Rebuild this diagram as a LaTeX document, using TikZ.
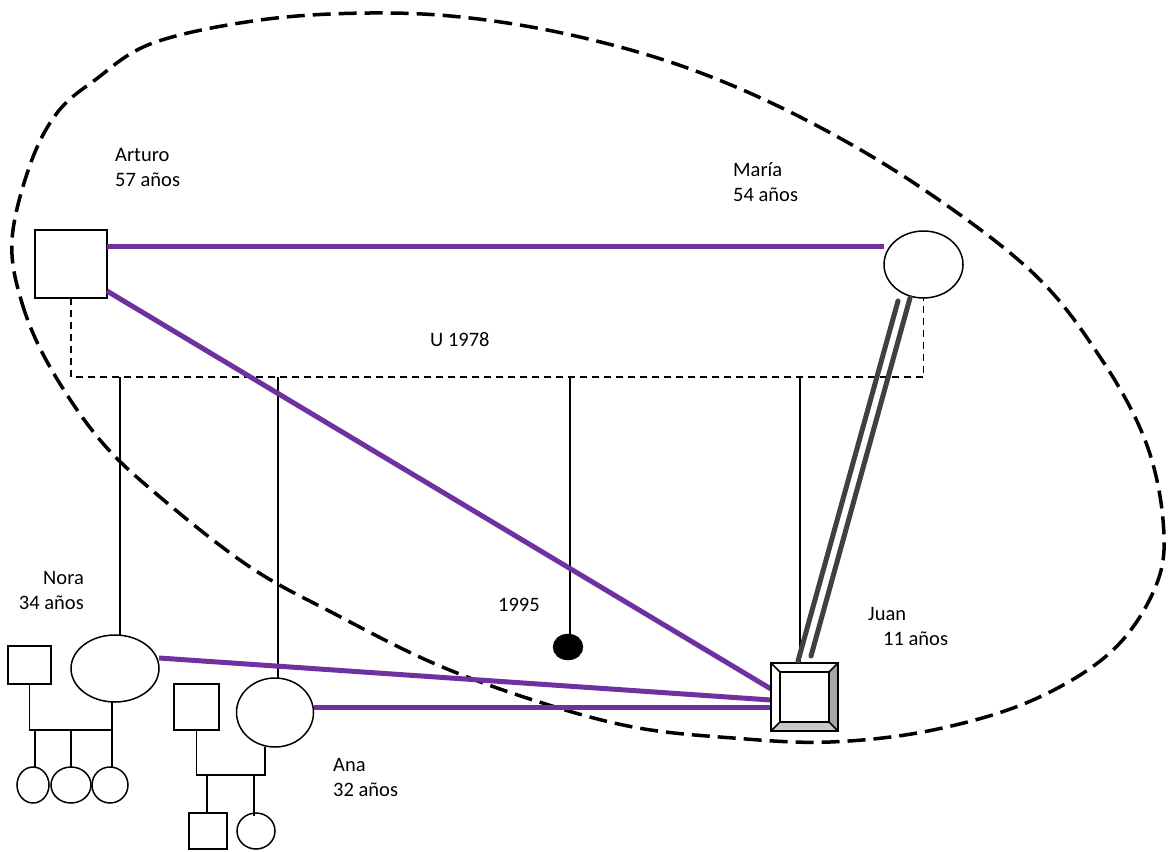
\documentclass[tikz,border=0pt]{standalone}
\usepackage{fontspec}
\setmainfont{Carlito}
\usetikzlibrary{shapes.geometric,calc}
\definecolor{relpurple}{HTML}{7030A0}
\definecolor{dblgrey}{HTML}{404040}
\definecolor{bevdark}{HTML}{A6A6A6}
\definecolor{bevlight}{HTML}{C8C8C8}
\tikzset{
  shp/.style={draw=black, line width=1.5pt, fill=white, inner sep=0pt, outer sep=0pt},
  sqr/.style={shp, rectangle},
  ell/.style={shp, ellipse},
  lbl/.style={font=\fontsize{20.5}{25}\selectfont, inner sep=0pt, text=black},
  rel/.style={line width=5pt, draw=relpurple},
  dbl/.style={line width=5pt, draw=dblgrey, line cap=round},
  kin/.style={line width=1.5pt},
  union/.style={line width=1.5pt, dash pattern=on 7pt off 5pt},
  outline/.style={line width=3.5pt, dash pattern=on 18pt off 8pt}
}
\begin{document}
\begin{tikzpicture}[x=1pt,y=-1pt]
\useasboundingbox (0,0) rectangle (1169,851);

% big dashed boundary
\draw[outline] plot[smooth cycle, tension=0.6] coordinates {
(12,240) (22,303) (50,367) (100,440) (160,497) (250,567) (333,613) (433,663)
(533,700) (633,727) (733,738) (830,742) (933,730) (1033,700) (1113,650)
(1157,583) (1163,520) (1145,440) (1100,357) (1033,273) (920,187) (806,120)
(693,70) (580,37) (470,18) (370,13) (260,20) (153,43) (95,80) (57,113) (30,165)};

% people
\node[sqr, minimum width=72pt, minimum height=68pt] (arturo) at (71,264) {};
\node[ell, minimum width=79pt, minimum height=67pt] (maria) at (923.5,264.5) {};
\node[ell, minimum width=88pt, minimum height=67pt] (nora) at (115,668.5) {};
\node[ell, minimum width=77pt, minimum height=69pt] (ana) at (275,712.5) {};
\node[sqr, minimum width=43pt, minimum height=38pt] (nh) at (29.5,665) {};
\node[sqr, minimum width=45pt, minimum height=46pt] (ah) at (196.5,707) {};
\node[ell, minimum width=32pt, minimum height=36pt] (nk1) at (33,785) {};
\node[ell, minimum width=40pt, minimum height=36pt] (nk2) at (71,785) {};
\node[ell, minimum width=36pt, minimum height=36pt] (nk3) at (110,785) {};
\node[sqr, minimum width=38pt, minimum height=36pt] (as) at (208,831) {};
\node[ell, minimum width=38pt, minimum height=36pt] (ag) at (256,831) {};
\node[ellipse, fill=black, draw=black, minimum width=30pt, minimum height=26pt, inner sep=0pt] (mc) at (568,647) {};
\node[sqr, minimum width=67pt, minimum height=68pt] (juan) at (804.5,697) {};

% labels (anchor = baseline of the last line)
\node[lbl, anchor=base west, align=left] (larturo) at (115,186) {Arturo\\57 años};
\node[lbl, anchor=base west, align=left] (lmaria) at (733,201) {María\\54 años};
\node[lbl, anchor=base west] (lunion) at (430,346) {U 1978};
\node[lbl, anchor=base west] (lmc) at (498,611) {1995};
\node[lbl, anchor=base east, align=right] (lnora) at (84,609) {Nora\\34 años};
\node[lbl, anchor=base west, align=left] (ljuan) at (868,645) {Juan\\\hspace*{15pt}11 años};
\node[lbl, anchor=base west, align=left] (lana) at (333,796) {Ana\\32 años};

% union line
\coordinate (ubar) at (0,377);
\draw[union] (arturo.south) -- (arturo.south |- ubar) -| (maria.south);
\draw[kin] ([xshift=5pt]nora.north) -- ([xshift=5pt]nora.north |- ubar);
\draw[kin] ([xshift=3pt]ana.north) -- ([xshift=3pt]ana.north |- ubar);
\draw[kin] ([xshift=2pt]mc.north) -- ([xshift=2pt]mc.north |- ubar);
\draw[kin] ([xshift=-4.5pt]juan.north) -- ([xshift=-4.5pt]juan.north |- ubar);

% Nora's family
\coordinate (nbar) at (0,730);
\draw[kin] (nh.south) -- (nh.south |- nbar) -| ([xshift=-3pt]nora.south);
\draw[kin] ([xshift=2pt]nk1.north) -- ([xshift=2pt]nk1.north |- nbar);
\draw[kin] (nk2.north) -- (nk2.north |- nbar);
\draw[kin] ([xshift=2pt]nk3.north) -- ([xshift=2pt]nk3.north |- nbar);

% Ana's family
\coordinate (abar) at (0,775);
\draw[kin] (ah.south) -- (ah.south |- abar) -| ([xshift=-10pt]ana.south);
\draw[kin] ([xshift=-1pt]as.north) -- ([xshift=-1pt]as.north |- abar);
\draw[kin] ([xshift=-2pt,yshift=-3pt]ag.north) -- ([xshift=-2pt]ag.north |- abar);

% purple relations
\draw[rel] ([yshift=18pt]arturo.east) -- ([yshift=18.5pt]maria.west);
\draw[rel] ([yshift=7pt]arturo.south east) -- ([yshift=8pt]juan.west);
\draw[rel] ([yshift=10.5pt]nora.east) -- ([yshift=-3pt]juan.west);
\draw[rel] ([yshift=5.5pt]ana.east) -- ([yshift=-10pt]juan.west);

% Juan bevel
\coordinate (i1) at ($(juan.north west)+(9,9)$);
\coordinate (i2) at ($(juan.north east)+(-9,9)$);
\coordinate (i3) at ($(juan.south east)+(-9,-9)$);
\coordinate (i4) at ($(juan.south west)+(9,-9)$);
\fill[bevdark] (juan.north east) -- (juan.south east) -- (i3) -- (i2) -- cycle;
\fill[bevlight] (juan.south west) -- (juan.south east) -- (i3) -- (i4) -- cycle;
\draw[line width=1.5pt] (juan.north west) rectangle (juan.south east);
\draw[line width=1.5pt] (i1) rectangle (i3);
\draw[line width=1.5pt] (juan.north west) -- (i1) (juan.north east) -- (i2)
  (juan.south east) -- (i3) (juan.south west) -- (i4);

% grey double line
\draw[dbl] ([xshift=-25.5pt,yshift=-3pt]maria.south) -- ([xshift=-6.5pt,yshift=2pt]juan.north);
\draw[dbl] ([xshift=-13.5pt]maria.south) -- ([xshift=6.5pt,yshift=7pt]juan.north);
\end{tikzpicture}
\end{document}
